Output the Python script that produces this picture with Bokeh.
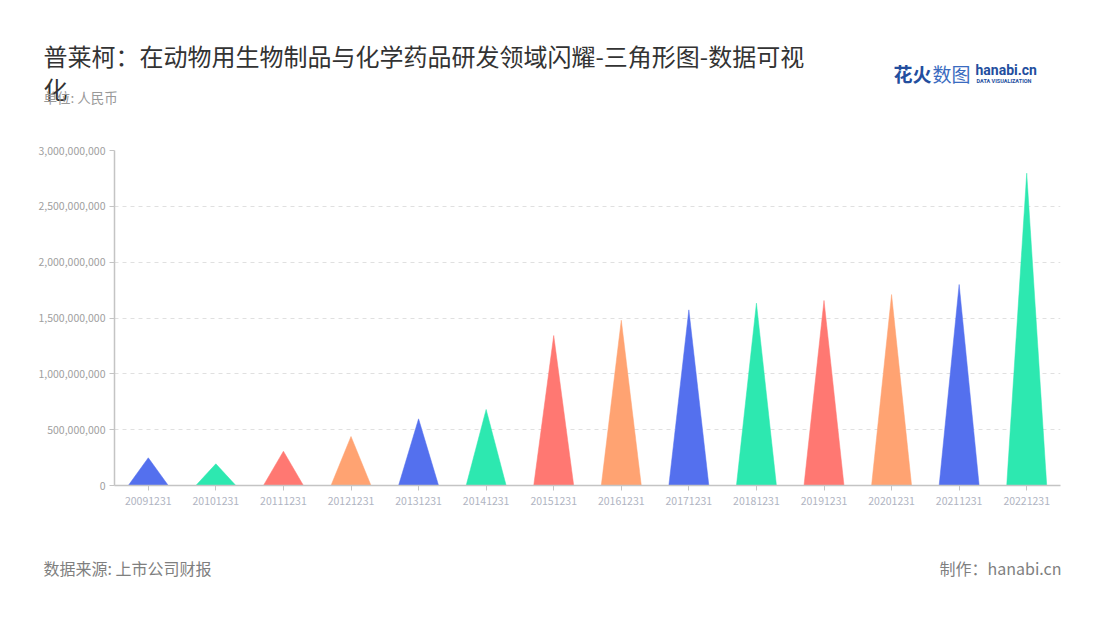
from bokeh.plotting import figure
from bokeh.layouts import column, row
from bokeh.models import Range1d, FixedTicker, NumeralTickFormatter, ColumnDataSource
from bokeh.core.properties import value
from bokeh.embed import file_html
from bokeh.resources import INLINE

# ---- data ----
dates = ["20091231", "20101231", "20111231", "20121231", "20131231", "20141231", "20151231",
         "20161231", "20171231", "20181231", "20191231", "20201231", "20211231", "20221231"]
values = [248e6, 194e6, 307e6, 439e6, 597e6, 681e6, 1343e6,
          1480e6, 1573e6, 1633e6, 1657e6, 1710e6, 1800e6, 2797e6]
palette = ["#5470ee", "#2de8b0", "#ff7872", "#ffa372"]
y_ticks = [0, 500e6, 1000e6, 1500e6, 2000e6, 2500e6, 3000e6]

title_line1 = "普莱柯：在动物用生物制品与化学药品研发领域闪耀-三角形图-数据可视"
title_line2 = "化"
subtitle = "单位: 人民币"
source_text = "数据来源: 上市公司财报"
maker_text = "制作：hanabi.cn"

FONT = "Noto Sans CJK SC"
W = 1084
H_HEAD, H_MAIN, H_FOOT = 110, 420, 74
FRAME_L, FRAME_R = 114, 1060


def text_panel(h):
    f = figure(width=W, height=h, output_backend="svg", toolbar_location=None,
               x_range=Range1d(0, W), y_range=Range1d(h, 0),
               min_border=0, min_border_left=0, min_border_right=0,
               min_border_top=0, min_border_bottom=0)
    f.axis.visible = False
    f.grid.visible = False
    f.outline_line_color = None
    f.border_fill_color = "white"
    f.background_fill_color = "white"
    return f


def txt(f, s, x, y, size, color, align="left", style="normal", font=FONT):
    f.text(x=[x], y=[y], text=[s], text_font=value(font), text_font_size=size,
           text_color=color, text_align=align, text_baseline="middle", text_font_style=style)


# ---- header ----
head = text_panel(H_HEAD)
txt(head, title_line1, 43, 55, "24px", "#333333")
txt(head, title_line2, 43, 88, "24px", "#333333")
txt(head, subtitle, 43, 96, "13.5px", "#999999")
txt(head, "花火", 893, 73, "19px", "#234e9e", style="bold")
txt(head, "数图", 932, 73, "19px", "#3a6bc0")
txt(head, "hanabi.cn", 975, 69, "14px", "#234e9e", style="bold", font="Roboto")
txt(head, "DATA VISUALIZATION", 976, 80, "5.5px", "#234e9e", style="bold", font="Roboto")

# ---- main chart ----
p = figure(width=W, height=H_MAIN, output_backend="svg", toolbar_location=None,
           x_range=Range1d(-0.5, len(dates) - 0.5), y_range=Range1d(0, 3000e6),
           min_border_left=FRAME_L, min_border_right=W - FRAME_R,
           min_border_top=150 - H_HEAD, min_border_bottom=H_HEAD + H_MAIN - 485)
p.outline_line_color = None
p.background_fill_color = "white"
p.border_fill_color = "white"

half = 0.296
xs = [[i - half, i, i + half] for i in range(len(dates))]
ys = [[0, v, 0] for v in values]
cols = [palette[i % 4] for i in range(len(dates))]
src = ColumnDataSource(dict(xs=xs, ys=ys, color=cols))
p.patches("xs", "ys", source=src, fill_color="color", line_color="color", line_width=0.5)

p.xaxis.ticker = FixedTicker(ticks=list(range(len(dates))))
p.xaxis.major_label_overrides = {i: d for i, d in enumerate(dates)}
p.xaxis.minor_tick_line_color = None
p.xaxis.axis_line_color = "#c4c4c4"
p.xaxis.axis_line_width = 1.5
p.xaxis.major_tick_line_color = "#c4c4c4"
p.xaxis.major_tick_out = 5
p.xaxis.major_tick_in = 0
p.xaxis.major_label_text_color = "#b0b4c2"
p.xaxis.major_label_text_font = FONT
p.xaxis.major_label_text_font_size = "10.5px"
p.xaxis.major_label_standoff = 6

p.yaxis.ticker = FixedTicker(ticks=y_ticks)
p.yaxis.formatter = NumeralTickFormatter(format="0,0")
p.yaxis.minor_tick_line_color = None
p.yaxis.axis_line_color = "#c4c4c4"
p.yaxis.axis_line_width = 1.5
p.yaxis.major_tick_line_color = "#c4c4c4"
p.yaxis.major_tick_out = 5
p.yaxis.major_tick_in = 0
p.yaxis.major_label_text_color = "#a0a0a0"
p.yaxis.major_label_text_font = FONT
p.yaxis.major_label_text_font_size = "10.5px"
p.yaxis.major_label_standoff = 4

p.xgrid.grid_line_color = None
p.ygrid.grid_line_color = "#e0e0e0"
p.ygrid.grid_line_dash = "4 4"
p.ygrid.grid_line_width = 1

# ---- footer ----
foot = text_panel(H_FOOT)
y0 = H_HEAD + H_MAIN
txt(foot, source_text, 43, 567 - y0, "16px", "#7f7f7f")
txt(foot, maker_text, 1061, 567 - y0, "16px", "#7f7f7f", align="right")

# header / footer nested in their own rows so their frames are not aligned with the chart
layout = column(row(head), p, row(foot), spacing=0)
open("out.html", "w").write(file_html(layout, INLINE))
